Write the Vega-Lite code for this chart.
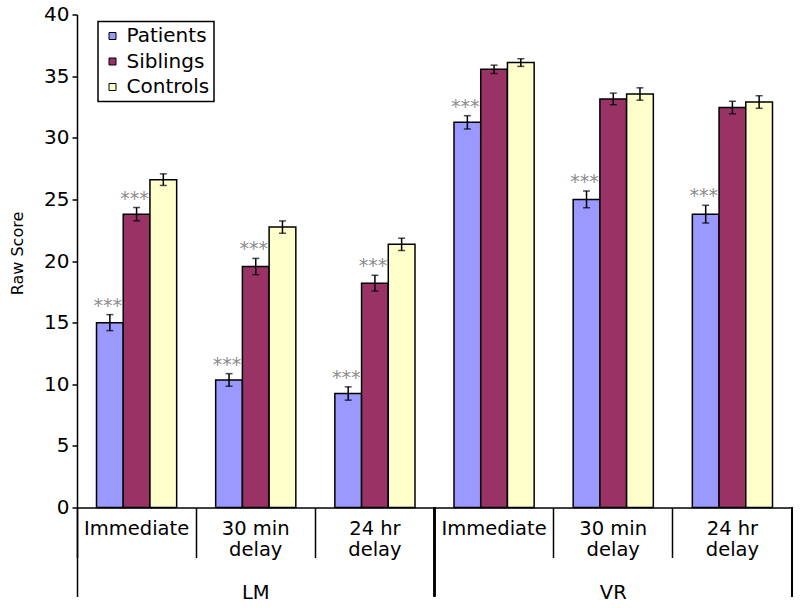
{
  "$schema": "https://vega.github.io/schema/vega-lite/v6.json",
  "width": 715,
  "height": 493,
  "autosize": {"type": "none"},
  "padding": {"left": 77, "top": 14.5, "right": 8, "bottom": 100.5},
  "background": "white",
  "config": {
    "font": "DejaVu Sans",
    "view": {"stroke": null},
    "axis": {"labelFont": "DejaVu Sans", "titleFont": "DejaVu Sans", "labelColor": "black", "titleColor": "black", "domainColor": "black", "tickColor": "black", "grid": false},
    "axisY": {"titleFontSize": 16, "titleFontWeight": "normal", "titlePadding": 18, "labelFontSize": 20, "tickSize": 5, "labelPadding": 3, "tickWidth": 1.5, "domainWidth": 1.5}
  },
  "data": {
    "values": [
      {"test": "LM", "cond": "LM|Immediate", "group": "Patients", "mean": 15.0, "lo": 14.35, "hi": 15.65, "sig": "***"},
      {"test": "LM", "cond": "LM|Immediate", "group": "Siblings", "mean": 23.8, "lo": 23.26, "hi": 24.34, "sig": "***"},
      {"test": "LM", "cond": "LM|Immediate", "group": "Controls", "mean": 26.6, "lo": 26.13, "hi": 27.07, "sig": ""},
      {"test": "LM", "cond": "LM|30 min|delay", "group": "Patients", "mean": 10.35, "lo": 9.84, "hi": 10.86, "sig": "***"},
      {"test": "LM", "cond": "LM|30 min|delay", "group": "Siblings", "mean": 19.55, "lo": 18.89, "hi": 20.21, "sig": "***"},
      {"test": "LM", "cond": "LM|30 min|delay", "group": "Controls", "mean": 22.75, "lo": 22.25, "hi": 23.25, "sig": ""},
      {"test": "LM", "cond": "LM|24 hr|delay", "group": "Patients", "mean": 9.25, "lo": 8.71, "hi": 9.79, "sig": "***"},
      {"test": "LM", "cond": "LM|24 hr|delay", "group": "Siblings", "mean": 18.2, "lo": 17.56, "hi": 18.84, "sig": "***"},
      {"test": "LM", "cond": "LM|24 hr|delay", "group": "Controls", "mean": 21.35, "lo": 20.85, "hi": 21.85, "sig": ""},
      {"test": "VR", "cond": "VR|Immediate", "group": "Patients", "mean": 31.25, "lo": 30.71, "hi": 31.79, "sig": "***"},
      {"test": "VR", "cond": "VR|Immediate", "group": "Siblings", "mean": 35.55, "lo": 35.21, "hi": 35.89, "sig": ""},
      {"test": "VR", "cond": "VR|Immediate", "group": "Controls", "mean": 36.1, "lo": 35.79, "hi": 36.41, "sig": ""},
      {"test": "VR", "cond": "VR|30 min|delay", "group": "Patients", "mean": 25.0, "lo": 24.32, "hi": 25.68, "sig": "***"},
      {"test": "VR", "cond": "VR|30 min|delay", "group": "Siblings", "mean": 33.15, "lo": 32.68, "hi": 33.62, "sig": ""},
      {"test": "VR", "cond": "VR|30 min|delay", "group": "Controls", "mean": 33.55, "lo": 33.05, "hi": 34.05, "sig": ""},
      {"test": "VR", "cond": "VR|24 hr|delay", "group": "Patients", "mean": 23.8, "lo": 23.08, "hi": 24.52, "sig": "***"},
      {"test": "VR", "cond": "VR|24 hr|delay", "group": "Siblings", "mean": 32.45, "lo": 31.94, "hi": 32.96, "sig": ""},
      {"test": "VR", "cond": "VR|24 hr|delay", "group": "Controls", "mean": 32.9, "lo": 32.39, "hi": 33.41, "sig": ""}
    ]
  },
  "layer": [
    {
      "encoding": {
        "x": {
          "field": "cond", "type": "nominal",
          "sort": ["LM|Immediate", "LM|30 min|delay", "LM|24 hr|delay", "VR|Immediate", "VR|30 min|delay", "VR|24 hr|delay"],
          "scale": {"paddingInner": 0, "paddingOuter": 0},
          "axis": {
            "orient": "bottom", "title": null,
            "labelExpr": "slice(split(datum.value, '|'), 1)",
            "labelAngle": 0, "labelFontSize": 19.5, "labelLineHeight": 21,
            "labelBaseline": "top", "labelAlign": "center",
            "bandPosition": 0, "tickSize": 50, "tickWidth": 1.5,
            "labelPadding": -38, "domainWidth": 1.5, "labelOverlap": false
          }
        },
        "xOffset": {
          "field": "group", "type": "nominal",
          "sort": ["Patients", "Siblings", "Controls"],
          "scale": {"paddingOuter": 0.73, "paddingInner": 0}
        }
      },
      "layer": [
        {
          "mark": {"type": "bar", "stroke": "black", "strokeWidth": 1.5},
          "encoding": {
            "y": {
              "field": "mean", "type": "quantitative",
              "scale": {"domain": [0, 40]},
              "axis": {
                "values": [0, 5, 10, 15, 20, 25, 30, 35, 40],
                "title": "Raw Score", "titleFontSize": 16, "titleY": 238.5
              }
            },
            "color": {
              "field": "group", "type": "nominal",
              "scale": {"domain": ["Patients", "Siblings", "Controls"], "range": ["#9999FF", "#993366", "#FFFFCC"]},
              "legend": {
                "title": null, "orient": "none", "legendX": 21, "legendY": 7,
                "labelFontSize": 20, "labelColor": "black", "labelFont": "DejaVu Sans",
                "symbolType": "square", "symbolSize": 49, "symbolStrokeColor": "black", "symbolStrokeWidth": 1,
                "labelOffset": 4, "rowPadding": 5.5, "padding": 4.5,
                "strokeColor": "black", "fillColor": "white",
                "symbolOpacity": 1,
                "encode": {"legend": {"update": {"strokeWidth": {"value": 1.5}}}}
              }
            }
          }
        },
        {
          "mark": {"type": "rule", "color": "black", "strokeWidth": 1.5},
          "encoding": {
            "y": {"field": "lo", "type": "quantitative"},
            "y2": {"field": "hi"}
          }
        },
        {
          "mark": {"type": "tick", "color": "black", "size": 7, "thickness": 1.5},
          "encoding": {"y": {"field": "lo", "type": "quantitative"}}
        },
        {
          "mark": {"type": "tick", "color": "black", "size": 7, "thickness": 1.5},
          "encoding": {"y": {"field": "hi", "type": "quantitative"}}
        },
        {
          "mark": {"type": "text", "color": "#8c8c8c", "fontSize": 19, "font": "DejaVu Sans", "align": "center", "baseline": "alphabetic", "dx": -2, "dy": -3},
          "encoding": {
            "y": {"field": "hi", "type": "quantitative"},
            "text": {"field": "sig"}
          }
        }
      ]
    },
    {
      "mark": {"type": "rule", "color": "black", "strokeWidth": 1.5, "clip": false},
      "encoding": {
        "x": {
          "field": "test", "type": "nominal", "bandPosition": 1,
          "sort": ["LM", "VR"],
          "scale": {"paddingInner": 0, "paddingOuter": 0},
          "axis": {
            "orient": "bottom", "title": null, "domain": false,
            "labelAngle": 0, "labelFontSize": 19.5, "labelBaseline": "top", "labelAlign": "center",
            "bandPosition": 0, "tickSize": 89, "tickWidth": 1.5, "labelPadding": -13
          }
        },
        "y": {"datum": 0, "type": "quantitative"},
        "y2": {"datum": -7.22}
      }
    }
  ],
  "resolve": {"scale": {"x": "independent"}}
}
